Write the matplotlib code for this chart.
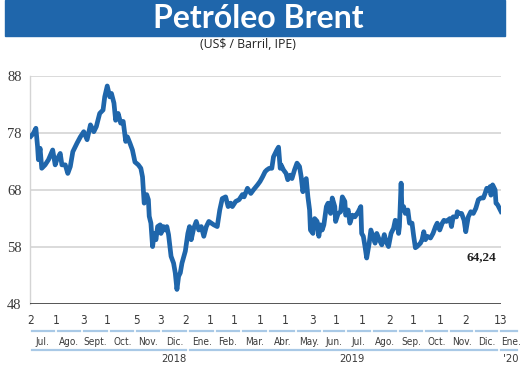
import numpy as np
import matplotlib.pyplot as plt
import matplotlib.dates as mdates
from matplotlib.patches import Rectangle
from matplotlib.transforms import blended_transform_factory

# Brent diario, días desde el 2 de julio de 2018
inicio = np.datetime64('2018-07-02')
dias = [0, 3, 6, 8, 9, 11, 13, 17, 21, 26,
        29, 31, 35, 37, 41, 44, 47, 50, 55, 59,
        63, 67, 71, 75, 78, 82, 86, 88, 91, 94,
        96, 99, 101, 104, 107, 110, 113, 115, 118, 121,
        124, 128, 131, 133, 135, 138, 140, 141, 143, 145,
        147, 149, 151, 154, 155, 158, 160, 162, 164, 167,
        170, 172, 174, 176, 178, 180, 184, 187, 189, 191,
        194, 197, 200, 203, 206, 209, 212, 215, 218, 222,
        225, 228, 232, 235, 238, 240, 244, 248, 252, 254,
        258, 262, 265, 270, 273, 276, 279, 281, 284, 287,
        289, 291, 293, 295, 297, 298, 301, 304, 306, 309,
        311, 314, 317, 320, 322, 324, 326, 328, 330, 332,
        333, 336, 338, 341, 343, 345, 347, 349, 352, 354,
        357, 359, 362, 363, 366, 369, 371, 374, 375, 378,
        380, 383, 386, 390, 393, 394, 396, 398, 400, 403,
        405, 408, 410, 412, 415, 418, 421, 423, 426, 429,
        432, 434, 436, 438, 439, 441, 442, 444, 446, 449,
        451, 454, 456, 458, 460, 464, 466, 468, 470, 472,
        476, 479, 482, 484, 487, 490, 492, 495, 499, 501,
        503, 507, 508, 510, 513, 516, 518, 521, 524, 527,
        530, 533, 536, 539, 541, 543, 545, 547, 548, 550,
        552, 553, 554, 556, 560]
precio = [77.4, 77.9, 78.8, 75.6, 73.3, 75.3, 71.8, 72.4, 73.3, 75.0,
          72.4, 73.3, 74.4, 72.4, 72.4, 70.9, 72.1, 74.7, 76.2, 77.3,
          78.2, 76.8, 79.4, 78.2, 79.1, 81.4, 82.0, 84.3, 86.2, 84.3,
          84.9, 83.2, 80.2, 81.4, 79.7, 80.0, 76.5, 77.3, 76.2, 75.0,
          72.9, 72.4, 71.8, 70.3, 65.7, 67.2, 66.3, 63.4, 62.2, 58.1,
          60.4, 59.3, 61.6, 61.9, 60.4, 61.6, 61.0, 61.6, 60.2, 56.4,
          55.2, 53.5, 50.6, 52.9, 53.5, 55.2, 57.3, 60.4, 61.6, 59.3,
          61.3, 62.5, 61.0, 61.6, 59.9, 61.6, 62.5, 62.2, 61.9, 61.6,
          64.5, 66.5, 66.8, 65.1, 65.7, 65.1, 66.0, 66.3, 67.2, 66.8,
          68.3, 67.4, 68.0, 68.9, 69.5, 70.3, 71.2, 71.5, 71.8, 71.8,
          73.8, 74.4, 75.0, 75.5, 71.8, 72.4, 71.5, 70.9, 69.8, 70.6,
          70.0, 71.5, 72.7, 72.1, 70.3, 67.7, 69.5, 70.0, 66.8, 64.5,
          61.0, 60.4, 63.0, 62.5, 59.9, 61.9, 61.0, 61.9, 65.1, 65.7,
          63.9, 66.6, 65.1, 62.5, 63.9, 64.2, 66.8, 66.0, 63.6, 64.5,
          62.2, 63.6, 63.3, 64.2, 65.1, 60.4, 59.9, 58.1, 56.1, 58.7,
          61.0, 59.6, 58.7, 60.4, 59.3, 58.4, 60.2, 59.0, 58.1, 60.4,
          61.3, 62.7, 62.5, 60.4, 61.6, 69.2, 64.5, 65.1, 63.9, 64.5,
          62.2, 62.2, 59.9, 57.9, 58.1, 58.7, 59.3, 60.7, 59.3, 59.9,
          59.6, 60.4, 61.6, 62.2, 61.0, 62.2, 62.7, 62.5, 63.0, 61.6,
          63.3, 63.3, 64.2, 63.9, 63.9, 62.7, 60.7, 63.3, 64.2, 63.9,
          64.8, 66.3, 66.6, 66.6, 67.4, 68.3, 68.0, 68.6, 67.1, 68.9,
          68.3, 68.0, 65.7, 65.4, 64.24]
ultimo = '64,24'

yticks = [48, 58, 68, 78, 88]

tick_fechas = ['2018-07-02', '2018-08-01', '2018-09-03', '2018-10-01', '2018-11-05',
               '2018-12-03', '2019-01-02', '2019-02-01', '2019-03-01', '2019-04-01',
               '2019-05-01', '2019-06-03', '2019-07-01', '2019-08-01', '2019-09-02',
               '2019-10-01', '2019-11-01', '2019-12-02', '2020-01-13']
tick_dias = ['2', '1', '3', '1', '5', '3', '2', '1', '1', '1',
             '1', '3', '1', '1', '2', '1', '1', '2', '13']

meses = ['Jul.', 'Ago.', 'Sept.', 'Oct.', 'Nov.', 'Dic.', 'Ene.', 'Feb.', 'Mar.', 'Abr.',
         'May.', 'Jun.', 'Jul.', 'Ago.', 'Sep.', 'Oct.', 'Nov.', 'Dic.', 'Ene.']
mes_fechas = ['2018-07-16', '2018-08-16', '2018-09-17', '2018-10-19', '2018-11-19',
              '2018-12-20', '2019-01-22', '2019-02-21', '2019-03-25', '2019-04-28',
              '2019-05-30', '2019-06-28', '2019-07-27', '2019-08-28', '2019-09-28',
              '2019-10-28', '2019-11-27', '2019-12-27', '2020-01-25']
anios = ['2018', '2019', "'20"]
anio_fechas = ['2018-12-19', '2019-07-20', '2020-01-25']
anio_grupos = [(0, 5), (6, 17), (18, 18)]

azul = '#1f66ab'
celeste = '#a9c9e6'
gris = '#3a3a3a'

fig = plt.figure(figsize=(5.2, 3.65), dpi=100)
ax = fig.add_axes([0.0577, 0.1663, 0.9058, 0.6263])

x = mdates.date2num(inicio + np.array(dias, dtype='timedelta64[D]'))
ax.plot(x, precio, color=azul, lw=3.4, solid_joinstyle='round', zorder=3)

x0 = mdates.date2num(np.datetime64('2018-07-01'))
x1 = mdates.date2num(np.datetime64('2020-01-13'))
ax.set_xlim(x0, x1)
ax.set_ylim(48, 88)

for v in yticks[1:]:
    ax.axhline(v, color='#d4d4d4', lw=1.2, zorder=1)
ax.axhline(48, color='#222222', lw=1.8, zorder=4)

for s in ['top', 'right', 'bottom']:
    ax.spines[s].set_visible(False)
ax.spines['left'].set_color('#d4d4d4')
ax.spines['left'].set_linewidth(1.0)

ax.set_yticks(yticks)
ax.set_yticklabels([str(v) for v in yticks], family='Liberation Serif', fontsize=10.5, color=gris)
ax.tick_params(axis='y', length=0, pad=6)
ax.set_xticks([])

ax.text(0.989, 56.3, ultimo, transform=blended_transform_factory(ax.transAxes, ax.transData),
        ha='right', va='center', fontsize=9.5, fontweight='bold', family='Liberation Serif',
        color='#222222')

# ejes inferiores: días, meses y años
tr = blended_transform_factory(ax.transData, fig.transFigure)
narrow = dict(family='DejaVu Sans', fontstretch='condensed', color=gris)
tx = mdates.date2num(np.array(tick_fechas, dtype='datetime64[D]'))
for xi, lab in zip(tx, tick_dias):
    fig.text(xi, 1 - 321 / 365, lab, transform=tr, ha='center', va='center',
             fontsize=8.5, **narrow)

mx = mdates.date2num(np.array(mes_fechas, dtype='datetime64[D]'))
for xi, lab in zip(mx, meses):
    fig.text(xi, 1 - 342 / 365, lab, transform=tr, ha='center', va='center',
             fontsize=7.2, **narrow)

gap = 2.4
bordes = [x0] + list((mx[:-1] + mx[1:]) / 2) + [mx[-1] + 10]
for i in range(len(mx)):
    fig.add_artist(plt.Line2D([bordes[i] + gap, bordes[i + 1] - gap], [1 - 331 / 365] * 2,
                              transform=tr, color=celeste, lw=1.6))
for (a, b) in anio_grupos:
    fig.add_artist(plt.Line2D([bordes[a] + gap, bordes[b + 1] - gap], [1 - 350 / 365] * 2,
                              transform=tr, color=celeste, lw=1.6))

ax_ = mdates.date2num(np.array(anio_fechas, dtype='datetime64[D]'))
for xi, lab in zip(ax_, anios):
    fig.text(xi, 1 - 359 / 365, lab, transform=tr, ha='center', va='center',
             fontsize=8, **narrow)

# cabecera
fig.add_artist(Rectangle((5 / 520, 1 - 36 / 365), 500 / 520, 36 / 365,
                         transform=fig.transFigure, color=azul, zorder=0))
fig.text(258 / 520, 1 - 19 / 365, 'Petróleo Brent', ha='center', va='center',
         fontsize=23, fontweight='bold', family='Lato', color='white')
fig.text(248 / 520, 1 - 45 / 365, '(US$ / Barril, IPE)', ha='center', va='center',
         fontsize=8.8, family='Open Sans', color='#222222')

fig.savefig('out.png', dpi=100)
